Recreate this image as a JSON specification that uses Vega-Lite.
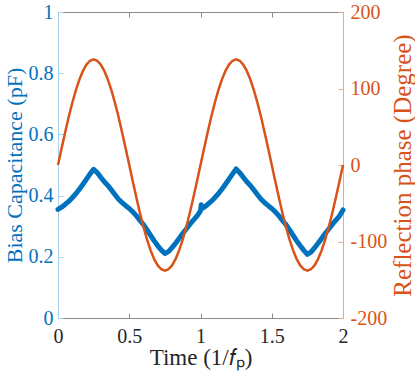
{
  "$schema": "https://vega.github.io/schema/vega-lite/v6.json",
  "width": 285,
  "height": 306,
  "autosize": {"type": "none"},
  "padding": {"left": 58, "top": 12, "right": 72, "bottom": 58},
  "background": "white",
  "config": {
    "view": {"stroke": "#8a8a8a", "strokeWidth": 1},
    "axis": {
      "labelFont": "Liberation Serif",
      "labelFontSize": 20,
      "titleFont": "Liberation Serif",
      "titleFontSize": 22,
      "titleFontWeight": "normal",
      "grid": false,
      "tickSize": -5,
      "labelFlush": false,
      "labelOverlap": false
    }
  },
  "datasets": {
    "cap": [
      {"t": 0, "c": 0.355}, {"t": 0.025, "c": 0.362}, {"t": 0.05, "c": 0.371}, {"t": 0.075, "c": 0.381},
      {"t": 0.1, "c": 0.393}, {"t": 0.125, "c": 0.406}, {"t": 0.15, "c": 0.421}, {"t": 0.175, "c": 0.437},
      {"t": 0.2, "c": 0.454}, {"t": 0.225, "c": 0.471}, {"t": 0.25, "c": 0.486}, {"t": 0.275, "c": 0.475},
      {"t": 0.3, "c": 0.46}, {"t": 0.325, "c": 0.445}, {"t": 0.35, "c": 0.433}, {"t": 0.375, "c": 0.418},
      {"t": 0.4, "c": 0.403}, {"t": 0.425, "c": 0.388}, {"t": 0.45, "c": 0.377}, {"t": 0.475, "c": 0.367},
      {"t": 0.5, "c": 0.358}, {"t": 0.525, "c": 0.347}, {"t": 0.55, "c": 0.334}, {"t": 0.575, "c": 0.319},
      {"t": 0.6, "c": 0.305}, {"t": 0.625, "c": 0.288}, {"t": 0.65, "c": 0.27}, {"t": 0.675, "c": 0.252},
      {"t": 0.7, "c": 0.236}, {"t": 0.725, "c": 0.222}, {"t": 0.75, "c": 0.211}, {"t": 0.775, "c": 0.217},
      {"t": 0.8, "c": 0.23}, {"t": 0.825, "c": 0.244}, {"t": 0.85, "c": 0.26}, {"t": 0.875, "c": 0.276},
      {"t": 0.9, "c": 0.291}, {"t": 0.925, "c": 0.306}, {"t": 0.95, "c": 0.32}, {"t": 0.975, "c": 0.333},
      {"t": 1.0, "c": 0.35}, {"t": 1.005, "c": 0.37}, {"t": 1.01, "c": 0.358},
      {"t": 1.025, "c": 0.362}, {"t": 1.05, "c": 0.371}, {"t": 1.075, "c": 0.381},
      {"t": 1.1, "c": 0.393}, {"t": 1.125, "c": 0.406}, {"t": 1.15, "c": 0.421}, {"t": 1.175, "c": 0.437},
      {"t": 1.2, "c": 0.454}, {"t": 1.225, "c": 0.471}, {"t": 1.25, "c": 0.487}, {"t": 1.275, "c": 0.475},
      {"t": 1.3, "c": 0.46}, {"t": 1.325, "c": 0.445}, {"t": 1.35, "c": 0.433}, {"t": 1.375, "c": 0.418},
      {"t": 1.4, "c": 0.403}, {"t": 1.425, "c": 0.388}, {"t": 1.45, "c": 0.377}, {"t": 1.475, "c": 0.367},
      {"t": 1.5, "c": 0.358}, {"t": 1.525, "c": 0.347}, {"t": 1.55, "c": 0.334}, {"t": 1.575, "c": 0.319},
      {"t": 1.6, "c": 0.305}, {"t": 1.625, "c": 0.288}, {"t": 1.65, "c": 0.27}, {"t": 1.675, "c": 0.252},
      {"t": 1.7, "c": 0.236}, {"t": 1.725, "c": 0.221}, {"t": 1.75, "c": 0.208}, {"t": 1.775, "c": 0.215},
      {"t": 1.8, "c": 0.229}, {"t": 1.825, "c": 0.244}, {"t": 1.85, "c": 0.26}, {"t": 1.875, "c": 0.276},
      {"t": 1.9, "c": 0.291}, {"t": 1.925, "c": 0.306}, {"t": 1.95, "c": 0.32}, {"t": 1.975, "c": 0.333},
      {"t": 2.0, "c": 0.353}
    ],
    "phase": [
      {"t": 0, "p": 0}, {"t": 0.025, "p": 21.6}, {"t": 0.05, "p": 42.6}, {"t": 0.075, "p": 62.7},
      {"t": 0.1, "p": 81.1}, {"t": 0.125, "p": 97.6}, {"t": 0.15, "p": 111.6}, {"t": 0.175, "p": 123.0},
      {"t": 0.2, "p": 131.3}, {"t": 0.225, "p": 136.3}, {"t": 0.25, "p": 138}, {"t": 0.275, "p": 136.3},
      {"t": 0.3, "p": 131.3}, {"t": 0.325, "p": 123.0}, {"t": 0.35, "p": 111.6}, {"t": 0.375, "p": 97.6},
      {"t": 0.4, "p": 81.1}, {"t": 0.425, "p": 62.7}, {"t": 0.45, "p": 42.6}, {"t": 0.475, "p": 21.6},
      {"t": 0.5, "p": 0}, {"t": 0.525, "p": -21.6}, {"t": 0.55, "p": -42.6}, {"t": 0.575, "p": -62.7},
      {"t": 0.6, "p": -81.1}, {"t": 0.625, "p": -97.6}, {"t": 0.65, "p": -111.6}, {"t": 0.675, "p": -123.0},
      {"t": 0.7, "p": -131.3}, {"t": 0.725, "p": -136.3}, {"t": 0.75, "p": -138}, {"t": 0.775, "p": -136.3},
      {"t": 0.8, "p": -131.3}, {"t": 0.825, "p": -123.0}, {"t": 0.85, "p": -111.6}, {"t": 0.875, "p": -97.6},
      {"t": 0.9, "p": -81.1}, {"t": 0.925, "p": -62.7}, {"t": 0.95, "p": -42.6}, {"t": 0.975, "p": -21.6},
      {"t": 1.0, "p": 0}, {"t": 1.025, "p": 21.6}, {"t": 1.05, "p": 42.6}, {"t": 1.075, "p": 62.7},
      {"t": 1.1, "p": 81.1}, {"t": 1.125, "p": 97.6}, {"t": 1.15, "p": 111.6}, {"t": 1.175, "p": 123.0},
      {"t": 1.2, "p": 131.3}, {"t": 1.225, "p": 136.3}, {"t": 1.25, "p": 138}, {"t": 1.275, "p": 136.3},
      {"t": 1.3, "p": 131.3}, {"t": 1.325, "p": 123.0}, {"t": 1.35, "p": 111.6}, {"t": 1.375, "p": 97.6},
      {"t": 1.4, "p": 81.1}, {"t": 1.425, "p": 62.7}, {"t": 1.45, "p": 42.6}, {"t": 1.475, "p": 21.6},
      {"t": 1.5, "p": 0}, {"t": 1.525, "p": -21.6}, {"t": 1.55, "p": -42.6}, {"t": 1.575, "p": -62.7},
      {"t": 1.6, "p": -81.1}, {"t": 1.625, "p": -97.6}, {"t": 1.65, "p": -111.6}, {"t": 1.675, "p": -123.0},
      {"t": 1.7, "p": -131.3}, {"t": 1.725, "p": -136.3}, {"t": 1.75, "p": -138}, {"t": 1.775, "p": -136.3},
      {"t": 1.8, "p": -131.3}, {"t": 1.825, "p": -123.0}, {"t": 1.85, "p": -111.6}, {"t": 1.875, "p": -97.6},
      {"t": 1.9, "p": -81.1}, {"t": 1.925, "p": -62.7}, {"t": 1.95, "p": -42.6}, {"t": 1.975, "p": -21.6},
      {"t": 2.0, "p": 0}
    ]
  },
  "layer": [
    {
      "data": {"name": "cap"},
      "mark": {"type": "line", "color": "#0072BD", "strokeWidth": 5, "strokeCap": "round", "strokeJoin": "round"},
      "encoding": {
        "x": {
          "field": "t", "type": "quantitative",
          "scale": {"domain": [0, 2], "nice": false, "zero": false},
          "axis": {
            "orient": "bottom", "values": [0, 0.5, 1, 1.5, 2], "format": "~g",
            "title": "Time (1/𝑓ₚ)", "titleFontSize": 23, "labelColor": "#262626", "titleColor": "#262626",
            "domainColor": "#8a8a8a", "tickColor": "#8a8a8a", "labelPadding": 13, "titlePadding": 0
          }
        },
        "y": {
          "field": "c", "type": "quantitative",
          "scale": {"domain": [0, 1], "nice": false},
          "axis": {
            "orient": "left", "values": [0, 0.2, 0.4, 0.6, 0.8, 1], "format": "~g",
            "title": "Bias Capacitance (pF)", "labelColor": "#0072BD", "titleColor": "#0072BD",
            "domainColor": "#a9d1ec", "tickColor": "#a9d1ec", "labelPadding": 10, "titlePadding": 2
          }
        }
      }
    },
    {
      "data": {"name": "phase"},
      "mark": {"type": "line", "color": "#D95319", "strokeWidth": 2.5},
      "encoding": {
        "x": {
          "field": "t", "type": "quantitative",
          "axis": {
            "orient": "top", "values": [0, 0.5, 1, 1.5, 2], "labels": false, "title": null,
            "domainColor": "#8a8a8a", "tickColor": "#8a8a8a"
          }
        },
        "y": {
          "field": "p", "type": "quantitative",
          "scale": {"domain": [-200, 200], "nice": false},
          "axis": {
            "orient": "right", "values": [-200, -100, 0, 100, 200], "labelExpr": "datum.value + ''",
            "title": "Reflection phase (Degree)", "titleFontSize": 25, "titleAngle": 270, "titleBaseline": "top",
            "labelColor": "#D95319", "titleColor": "#D95319",
            "domainColor": "#eba98c", "tickColor": "#eba98c", "labelPadding": 12, "titlePadding": 4
          }
        }
      }
    }
  ],
  "resolve": {"scale": {"y": "independent"}, "axis": {"x": "independent"}}
}
